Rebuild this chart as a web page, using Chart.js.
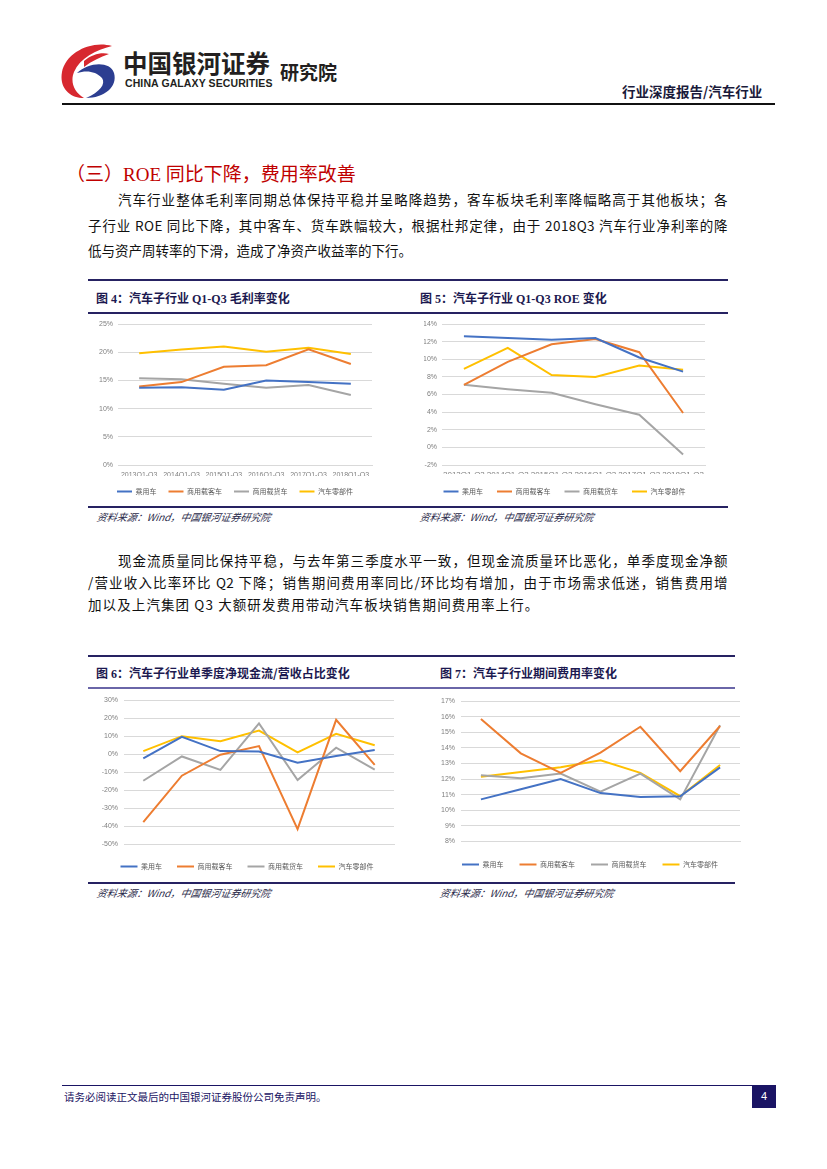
<!DOCTYPE html>
<html>
<head>
<meta charset="utf-8">
<script src="https://cdn.jsdelivr.net/npm/chart.js@4/dist/chart.umd.min.js"></script>
<style>
  html, body { margin:0; padding:0; background:#fff; }
  body { width:827px; height:1169px; position:relative; overflow:hidden; font-family:"Noto Sans CJK SC", sans-serif; }
  .abs { position:absolute; white-space:nowrap; }
  .hline { position:absolute; height:0; }
  .para { position:absolute; font-size:13.5px; letter-spacing:0.4px; color:#111; white-space:nowrap; line-height:16px; }
  .just { text-align:justify; text-align-last:justify; white-space:normal; }
  .figt { position:absolute; font-size:12px; font-weight:bold; color:#1c1950; white-space:nowrap; font-family:"Liberation Serif","Noto Sans CJK SC",serif; }
  .figt span.cjk { font-family:"Noto Sans CJK SC",sans-serif; }
  .src { position:absolute; font-size:10px; font-style:italic; color:#2a2a4a; white-space:nowrap; transform:skewX(-10deg); }
  .chartbox { position:absolute; }
</style>
</head>
<body>
<!-- header -->
<svg class="abs" style="left:58px;top:42px" width="62" height="60" viewBox="58 42 62 60">
  <path d="M112 46 C 92 40, 66 52, 62 72 C 59 88, 70 98, 84 98 C 74 92, 70 82, 74 72 C 80 58, 96 50, 112 46 Z" fill="#d7282f"/>
  <path d="M77 73 C 89 62, 110 61, 114 73 C 118 87, 104 98, 86 98 C 100 92, 106 84, 102 78 C 96 71, 86 70, 77 73 Z" fill="#2c3e91"/>
  <path d="M84 61 C 92 54, 102 52, 109 54 C 100 57, 92 61, 84 67 Z" fill="#d7282f"/>
</svg>
<div class="abs" style="left:123px;top:45px;font-size:24.5px;font-weight:bold;color:#231f20;">中国银河证券</div>
<div class="abs" style="left:125px;top:77px;font-size:10.5px;font-weight:bold;color:#231f20;font-family:'Liberation Sans',sans-serif;letter-spacing:0.1px;">CHINA GALAXY SECURITIES</div>
<div class="abs" style="left:280px;top:58px;font-size:19px;font-weight:bold;color:#231f20;">研究院</div>
<div class="abs" style="left:622px;top:81px;font-size:13.5px;font-weight:bold;color:#1a1a3a;">行业深度报告/汽车行业</div>
<div class="hline" style="left:62px;top:103px;width:713px;border-top:2px solid #111;"></div>

<div class="abs" style="left:66px;top:159px;font-size:19px;color:#c00000;font-family:'Liberation Serif','Noto Sans CJK SC',serif;">（三）ROE 同比下降，费用率改善</div>

<div class="para just" style="left:118px;top:191px;width:610px;">汽车行业整体毛利率同期总体保持平稳并呈略降趋势，客车板块毛利率降幅略高于其他板块；各</div>
<div class="para just" style="left:88px;top:217px;width:640px;">子行业 ROE 同比下降，其中客车、货车跌幅较大，根据杜邦定律，由于 2018Q3 汽车行业净利率的降</div>
<div class="para" style="left:88px;top:242px;letter-spacing:0px;">低与资产周转率的下滑，造成了净资产收益率的下行。</div>

<div class="hline" style="left:88px;top:279px;width:640px;border-top:2px solid #262262;"></div>
<div class="figt" style="left:96px;top:289px;"><span class="cjk">图</span> 4<span class="cjk">：汽车子行业</span> Q1-Q3 <span class="cjk">毛利率变化</span></div>
<div class="figt" style="left:420px;top:289px;"><span class="cjk">图</span> 5<span class="cjk">：汽车子行业</span> Q1-Q3 ROE <span class="cjk">变化</span></div>
<div class="hline" style="left:88px;top:312px;width:640px;border-top:2px solid #262262;"></div>
<div class="chartbox" style="left:90px;top:314px;width:295px;height:191px;"><canvas id="c4"></canvas></div>
<div class="chartbox" style="left:420px;top:314px;width:300px;height:191px;"><canvas id="c5"></canvas></div>
<div class="hline" style="left:88px;top:506px;width:640px;border-top:2px solid #262262;"></div>
<div class="src" style="left:97px;top:509px;">资料来源：Wind，中国银河证券研究院</div>
<div class="src" style="left:420px;top:509px;">资料来源：Wind，中国银河证券研究院</div>

<div class="para just" style="left:118px;top:552px;width:610px;">现金流质量同比保持平稳，与去年第三季度水平一致，但现金流质量环比恶化，单季度现金净额</div>
<div class="para just" style="left:88px;top:574px;width:640px;">/营业收入比率环比 Q2 下降；销售期间费用率同比/环比均有增加，由于市场需求低迷，销售费用增</div>
<div class="para" style="left:88px;top:596px;letter-spacing:1.1px;">加以及上汽集团 Q3 大额研发费用带动汽车板块销售期间费用率上行。</div>

<div class="hline" style="left:88px;top:655px;width:647px;border-top:2px solid #262262;"></div>
<div class="figt" style="left:96px;top:664px;"><span class="cjk">图</span> 6<span class="cjk">：汽车子行业单季度净现金流/营收占比变化</span></div>
<div class="figt" style="left:440px;top:664px;"><span class="cjk">图</span> 7<span class="cjk">：汽车子行业期间费用率变化</span></div>
<div class="hline" style="left:88px;top:687px;width:647px;border-top:2px solid #6a66a8;"></div>
<div class="chartbox" style="left:90px;top:690px;width:310px;height:190px;"><canvas id="c6"></canvas></div>
<div class="chartbox" style="left:432px;top:690px;width:312px;height:188px;"><canvas id="c7"></canvas></div>
<div class="hline" style="left:88px;top:882px;width:647px;border-top:2px solid #262262;"></div>
<div class="src" style="left:97px;top:885px;">资料来源：Wind，中国银河证券研究院</div>
<div class="src" style="left:440px;top:885px;">资料来源：Wind，中国银河证券研究院</div>

<div class="hline" style="left:62px;top:1085px;width:690px;border-top:1.5px solid #1a1464;"></div>
<div class="abs" style="left:64px;top:1089px;font-size:10.5px;color:#1a1464;">请务必阅读正文最后的中国银河证券股份公司免责声明。</div>
<div class="abs" style="left:752px;top:1085px;width:24px;height:23px;background:#1a1464;color:#fff;font-size:11px;text-align:center;line-height:23px;font-family:'Liberation Sans',sans-serif;">4</div>

<script>
// ---------------- data ----------------
const seriesNames = ['乘用车', '商用载客车', '商用载货车', '汽车零部件'];
const seriesColors = ['#4472C4', '#ED7D31', '#A5A5A5', '#FFC000'];

// Figure 4: gross margin Q1-Q3 (%)
const periodsQ1Q3 = ['2013Q1-Q3', '2014Q1-Q3', '2015Q1-Q3', '2016Q1-Q3', '2017Q1-Q3', '2018Q1-Q3'];
const gmPassenger = [13.7, 13.8, 13.35, 15.0, 14.7, 14.4];
const gmBus       = [13.9, 14.7, 17.4, 17.7, 20.5, 17.9];
const gmTruck     = [15.4, 15.2, 14.4, 13.7, 14.2, 12.4];
const gmParts     = [19.8, 20.5, 21.0, 20.1, 20.8, 19.7];
const gmTicks = {min: 0, max: 25, step: 5};

// Figure 5: ROE Q1-Q3 (%)
const roePassenger = [12.6, 12.4, 12.2, 12.4, 10.2, 8.6];
const roeBus       = [7.1, 9.7, 11.7, 12.3, 10.8, 3.9];
const roeTruck     = [7.1, 6.6, 6.2, 4.9, 3.7, -0.8];
const roeParts     = [8.9, 11.3, 8.2, 8.0, 9.3, 8.8];
const roeTicks = {min: -2, max: 14, step: 2};

// Figure 6: quarterly net cash flow / revenue (%)
const quarters = ['2017Q1', '2017Q2', '2017Q3', '2017Q4', '2018Q1', '2018Q2', '2018Q3'];
const cfPassenger = [-2.4, 9.6, 1.7, 1.5, -4.8, -1.1, 2.3];
const cfBus       = [-37.8, -12.0, -0.3, 4.5, -41.7, 19.1, -6.0];
const cfTruck     = [-14.8, -1.3, -8.8, 17.1, -14.4, 3.6, -8.6];
const cfParts     = [1.7, 10.0, 7.2, 13.1, 1.0, 11.3, 4.9];
const cfTicks = {min: -50, max: 30, step: 10};

// Figure 7: period expense ratio (%)
const exPassenger = [10.7, 11.35, 12.0, 11.1, 10.85, 10.9, 12.75];
const exBus       = [15.85, 13.65, 12.4, 13.7, 15.35, 12.5, 15.4];
const exTruck     = [12.25, 12.05, 12.35, 11.2, 12.35, 10.7, 15.45];
const exParts     = [12.15, 12.45, 12.75, 13.2, 12.4, 10.9, 12.9];
const exTicks = {min: 8, max: 17, step: 1};

// ---------------- charts ----------------
Chart.defaults.font.family = "'Liberation Sans', 'Noto Sans CJK SC', sans-serif";
Chart.defaults.color = '#595959';
Chart.defaults.animation = false;

function makeChart(id, labels, values, ticks, cfg) {
  const datasets = values.map((v, i) => ({
    label: seriesNames[i], data: v,
    borderColor: seriesColors[i], backgroundColor: seriesColors[i],
    borderWidth: 2, pointRadius: 0, tension: 0, fill: false
  }));
  new Chart(document.getElementById(id), {
    type: 'line',
    data: { labels, datasets },
    options: {
      responsive: true, maintainAspectRatio: false, animation: false,
      layout: { padding: cfg.padding },
      plugins: {
        tooltip: { enabled: false },
        legend: {
          position: 'bottom',
          labels: {
            usePointStyle: true, pointStyle: 'line', pointStyleWidth: cfg.legendLine, boxHeight: 2,
            padding: cfg.legendPad,
            font: { size: cfg.legendFont, family: "'Noto Sans CJK SC', sans-serif" },
            color: '#595959'
          }
        }
      },
      scales: {
        x: {
          offset: true,
          grid: { display: false, drawTicks: false },
          border: { display: true, color: '#d9d9d9' },
          ticks: { autoSkip: false, maxRotation: 0, minRotation: 0, padding: cfg.xPad, font: { size: cfg.xFont }, color: '#7f7f7f' },
          afterFit: s => { s.height = cfg.xHeight; }
        },
        y: {
          min: ticks.min, max: ticks.max,
          grid: { color: '#d9d9d9', lineWidth: 1, drawTicks: false },
          border: { display: false },
          ticks: { stepSize: ticks.step, padding: cfg.yPad, font: { size: cfg.yFont }, color: '#7f7f7f', callback: v => v + '%' },
          afterFit: s => { s.width = cfg.yWidth; }
        }
      }
    }
  });
}

makeChart('c4', periodsQ1Q3, [gmPassenger, gmBus, gmTruck, gmParts], gmTicks,
  { padding: {top: 10, right: 13, bottom: 0, left: 8}, yWidth: 20, xHeight: 11, xPad: 6, xFont: 7, yFont: 7, yPad: 5, legendFont: 7, legendPad: 12, legendLine: 15 });
makeChart('c5', periodsQ1Q3, [roePassenger, roeBus, roeTruck, roeParts], roeTicks,
  { padding: {top: 10, right: 15, bottom: 0, left: 4}, yWidth: 18, xHeight: 9, xPad: 5, xFont: 8, yFont: 7, yPad: 5, legendFont: 7, legendPad: 14, legendLine: 15 });
makeChart('c6', quarters, [cfPassenger, cfBus, cfTruck, cfParts], cfTicks,
  { padding: {top: 10, right: 6, bottom: 0, left: 10}, yWidth: 24, xHeight: 4, xPad: 4.5, xFont: 7.5, yFont: 7, yPad: 6, legendFont: 7, legendPad: 15, legendLine: 17 });
makeChart('c7', quarters, [exPassenger, exBus, exTruck, exParts], exTicks,
  { padding: {top: 11, right: 4, bottom: 0, left: 8}, yWidth: 21, xHeight: 3.5, xPad: 6, xFont: 7.5, yFont: 7, yPad: 6, legendFont: 7, legendPad: 16, legendLine: 17 });
</script>
</body>
</html>
